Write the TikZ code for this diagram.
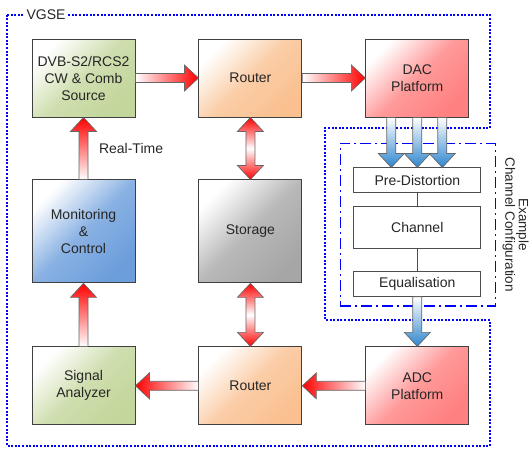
\documentclass[tikz,border=0pt]{standalone}
\usepackage{fontspec}
\setmainfont{Liberation Sans}
\usepackage{tikz}
\usetikzlibrary{positioning,calc,fit}
\definecolor{srcgreen}{HTML}{C3D69B}
\definecolor{rtorange}{HTML}{FAC090}
\definecolor{platred}{HTML}{FF8080}
\definecolor{monblue}{HTML}{6C9EDC}
\definecolor{stogray}{HTML}{A6A6A6}
\definecolor{flowblue}{HTML}{2E86CF}
\definecolor{frameblue}{HTML}{0000FF}

% block arrow from #2 to #3, shading given in #1
\newcommand\flowarrow[3]{%
  \path[flow,#1] ($(#2)!4.5pt!90:(#3)$)
    -- ($(#3)!14pt!(#2)!4.5pt!90:(#3)$)
    -- ($(#3)!14pt!(#2)!13pt!90:(#3)$)
    -- (#3)
    -- ($(#3)!14pt!(#2)!13pt!-90:(#3)$)
    -- ($(#3)!14pt!(#2)!4.5pt!-90:(#3)$)
    -- ($(#2)!4.5pt!-90:(#3)$) -- cycle;}
% block arrow with a head at both ends
\newcommand\flowdarrow[3]{%
  \path[flow,#1] (#2)
    -- ($(#2)!14pt!(#3)!13pt!90:(#3)$)
    -- ($(#2)!14pt!(#3)!4.5pt!90:(#3)$)
    -- ($(#3)!14pt!(#2)!4.5pt!90:(#3)$)
    -- ($(#3)!14pt!(#2)!13pt!90:(#3)$)
    -- (#3)
    -- ($(#3)!14pt!(#2)!13pt!-90:(#3)$)
    -- ($(#3)!14pt!(#2)!4.5pt!-90:(#3)$)
    -- ($(#2)!14pt!(#3)!4.5pt!-90:(#3)$)
    -- ($(#2)!14pt!(#3)!13pt!-90:(#3)$) -- cycle;}

\begin{document}
\begin{tikzpicture}[
  x=1pt, y=1pt,
  txt/.style={font=\fontsize{14}{17}\selectfont, text=black!85},
  block/.style={txt, draw=black!75, line width=0.9pt, align=center,
                minimum width=103pt, minimum height=78pt},
  tall/.style={minimum height=103pt},
  tint/.style={top color=white, bottom color=#1, middle color=#1!80,
               shading angle=45},
  chbox/.style={txt, draw=black!70, line width=0.8pt, fill=white,
                minimum width=127pt, minimum height=25pt},
  link/.style={draw=black!70, line width=0.8pt},
  flow/.style={draw=black!60, line width=0.7pt},
  redfwd/.style={left color=white, right color=red},
  redback/.style={left color=red, right color=white},
  redup/.style={bottom color=white, top color=red},
  redboth/.style={top color=red, bottom color=red, middle color=white},
  bluedown/.style={top color=white, bottom color=flowblue},
  vgseframe/.style={draw=frameblue, line width=1.3pt, dash pattern=on 2pt off 1.6pt},
  ccframe/.style={draw=frameblue, line width=1.4pt, inner sep=0pt,
                  dash pattern=on 11pt off 4pt on 2pt off 4pt}
]
  \useasboundingbox (0,0) rectangle (530,-448);

  % VGSE boundary
  \draw[vgseframe] (7,-15) -- (490,-15) -- (490,-128) -- (325,-128)
    -- (325,-320) -- (490,-320) -- (490,-446) -- (7,-446) -- cycle;
  \node[txt, fill=white, inner sep=2pt] (vgse) at (46,-15) {VGSE};

  % top row
  \node[block, tint=srcgreen] (src) at (83.5,-78) {DVB-S2/RCS2\\CW \& Comb\\Source};
  \node[block, tint=rtorange, right=63pt of src] (rtt) {Router};
  \node[block, tint=platred, right=63pt of rtt] (dac) {DAC\\Platform};
  % middle row
  \node[block, tall, tint=monblue, below=62pt of src] (mon) {Monitoring\\\&\\Control};
  \node[block, tall, tint=stogray, below=62pt of rtt] (sto) {Storage};
  % bottom row
  \node[block, tint=srcgreen, below=63pt of mon] (siga) {Signal\\Analyzer};
  \node[block, tint=rtorange, below=63pt of sto] (rtb) {Router};
  \node[block, tint=platred, right=63pt of rtb] (adc) {ADC\\Platform};

  % channel chain
  \node[chbox, below=50pt of dac] (prd) {Pre-Distortion};
  \node[chbox, minimum height=42pt, below=13pt of prd] (chan) {Channel};
  \node[chbox, below=22pt of chan] (eq) {Equalisation};
  \draw[link] (prd) -- (chan);
  \draw[link] (chan) -- (eq);
  \coordinate (ccnw) at ([xshift=-13pt,yshift=24pt]prd.north west);
  \coordinate (ccse) at ([xshift=14pt,yshift=-9pt]eq.south east);
  \node[ccframe, fit=(ccnw)(ccse)] (ccbox) {};
  \node[font=\fontsize{13.5}{11.5}\selectfont, text=black!85, rotate=-90,
        anchor=south, align=center, inner sep=0.5pt]
    (cclabel) at ([xshift=6pt]ccbox.east) {Example\\Channel Configuration};

  % forward path
  \flowarrow{redfwd}{src.east}{rtt.west}
  \flowarrow{redfwd}{rtt.east}{dac.west}
  % DAC outputs into the channel
  \coordinate (da) at ([xshift=-26pt]dac.south);
  \coordinate (db) at (dac.south);
  \coordinate (dc) at ([xshift=25pt]dac.south);
  \coordinate (pa) at ([xshift=-26pt]prd.north);
  \coordinate (pb) at (prd.north);
  \coordinate (pc) at ([xshift=25pt]prd.north);
  \flowarrow{bluedown}{da}{pa}
  \flowarrow{bluedown}{db}{pb}
  \flowarrow{bluedown}{dc}{pc}
  \flowarrow{bluedown}{eq.south}{adc.north}
  % return path
  \flowarrow{redback}{adc.west}{rtb.east}
  \flowarrow{redback}{rtb.west}{siga.east}
  \flowarrow{redup}{siga.north}{mon.south}
  \flowarrow{redup}{mon.north}{src.south}
  \node[txt, anchor=west] (rt) at ($(mon.north)!0.5!(src.south)+(12,0)$) {Real-Time};
  % storage links
  \flowdarrow{redboth}{rtt.south}{sto.north}
  \flowdarrow{redboth}{sto.south}{rtb.north}
\end{tikzpicture}
\end{document}
